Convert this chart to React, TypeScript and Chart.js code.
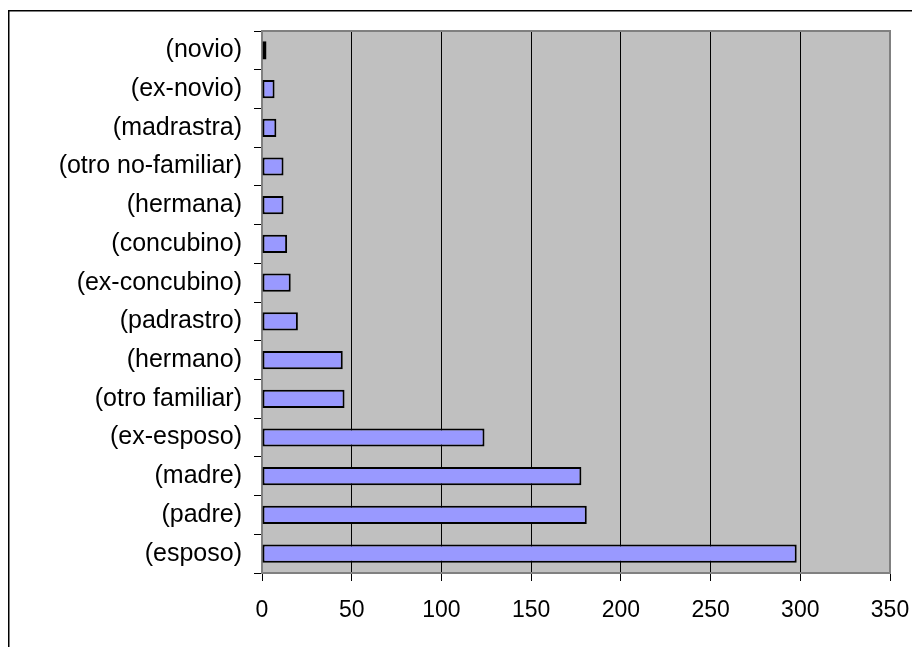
import React, { useEffect, useRef } from "react";
import { Chart, registerables } from "chart.js";

Chart.register(...registerables);

const categories = [
  "(novio)",
  "(ex-novio)",
  "(madrastra)",
  "(otro no-familiar)",
  "(hermana)",
  "(concubino)",
  "(ex-concubino)",
  "(padrastro)",
  "(hermano)",
  "(otro familiar)",
  "(ex-esposo)",
  "(madre)",
  "(padre)",
  "(esposo)",
];

const values = [2.5, 7, 8, 12, 12, 14, 16, 20, 45, 46, 124, 178, 181, 298];

const xTicks = [0, 50, 100, 150, 200, 250, 300, 350];

const W = 912;
const H = 639;

const plotPlugin = {
  id: "plotBg",
  beforeDraw(chart: any) {
    const { ctx, chartArea } = chart;
    ctx.save();
    ctx.fillStyle = "#ffffff";
    ctx.fillRect(0, 0, chart.width, chart.height);
    ctx.strokeStyle = "#000000";
    ctx.lineWidth = 1.5;
    ctx.beginPath();
    ctx.moveTo(0.75, chart.height + 5);
    ctx.lineTo(0.75, 2.75);
    ctx.lineTo(chart.width + 5, 2.75);
    ctx.stroke();
    ctx.fillStyle = "#C0C0C0";
    ctx.fillRect(
      chartArea.left,
      chartArea.top,
      chartArea.right - chartArea.left,
      chartArea.bottom - chartArea.top
    );
    ctx.restore();
  },
  beforeDatasetsDraw(chart: any) {
    const { ctx, chartArea } = chart;
    ctx.save();
    ctx.strokeStyle = "#808080";
    ctx.lineWidth = 2;
    ctx.strokeRect(
      chartArea.left,
      chartArea.top,
      chartArea.right - chartArea.left,
      chartArea.bottom - chartArea.top
    );
    ctx.restore();
  },
};

export default function App() {
  const ref = useRef<HTMLCanvasElement | null>(null);

  useEffect(() => {
    if (!ref.current) return;
    const chart = new Chart(ref.current, {
      type: "bar",
      data: {
        labels: categories,
        datasets: [
          {
            data: values,
            backgroundColor: "#9999FF",
            borderColor: "#000000",
            borderWidth: 2,
            borderSkipped: false,
            barPercentage: 0.47,
            categoryPercentage: 1,
          },
        ],
      },
      options: {
        indexAxis: "y",
        animation: false,
        responsive: false,
        maintainAspectRatio: false,
        layout: { padding: { left: 0, top: 23, right: 30, bottom: 0 } },
        plugins: {
          legend: { display: false },
          tooltip: { enabled: false },
        },
        scales: {
          x: {
            type: "linear",
            min: 0,
            max: 350,
            afterFit(scale: any) {
              scale.height = 74;
              scale.paddingLeft = 0;
              scale.paddingRight = 0;
            },
            afterBuildTicks(scale: any) {
              scale.ticks = xTicks.map((v) => ({ value: v }));
            },
            ticks: {
              color: "#000000",
              font: { family: "Liberation Sans, Arial, sans-serif", size: 23 },
              padding: 16,
              maxRotation: 0,
            },
            grid: {
              color: "#000000",
              lineWidth: 1,
              tickLength: 8,
              drawOnChartArea: true,
            },
            border: { display: false },
          },
          y: {
            type: "category",
            afterFit(scale: any) {
              scale.width = 254;
              scale.paddingTop = 0;
              scale.paddingBottom = 0;
            },
            ticks: {
              color: "#000000",
              font: { family: "Liberation Sans, Arial, sans-serif", size: 25 },
              padding: 12,
            },
            grid: {
              color: "#000000",
              lineWidth: 1,
              tickLength: 8,
              drawOnChartArea: false,
              offset: true,
            },
            border: { display: false },
          },
        },
      },
      plugins: [plotPlugin],
    });
    return () => chart.destroy();
  }, []);

  return (
    <canvas
      ref={ref}
      width={W}
      height={H}
      style={{ display: "block", width: W + "px", height: H + "px" }}
    />
  );
}
